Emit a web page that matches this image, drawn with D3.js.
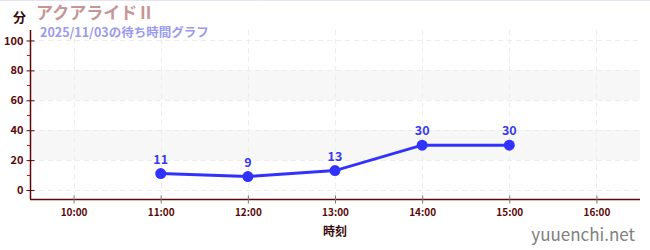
<!DOCTYPE html>
<meta charset="utf-8">
<style>
body { margin: 0; background: #fff; }
svg text { font-family: "Noto Sans CJK JP", "Noto Sans", sans-serif; }
</style>
<svg width="650" height="250"></svg>
<script src="https://d3js.org/d3.v7.min.js"></script>
<script>
"use strict";

// data
var hours = [11, 12, 13, 14, 15];
var waits = [11, 9, 13, 30, 30];
var xTicks = [10, 11, 12, 13, 14, 15, 16];
var yTicks = [0, 20, 40, 60, 80, 100];
var yMinor = [10, 30, 50, 70, 90];
var bands = [[20, 40], [60, 80]];

var svg = d3.select("svg");
var pLeft = 30, pRight = 640, pTop = 30, pBottom = 199;
var axisColor = "#5c0808";

var x = d3.scaleLinear().domain([9.5, 16.5]).range([pLeft, pRight]);
var y = d3.scaleLinear().domain([-6, 107]).range([pBottom, pTop]);

// top border
svg.append("line").attr("x1", 0).attr("x2", 650).attr("y1", 0.5).attr("y2", 0.5)
  .attr("stroke", "#e4e4f4");

// bands
svg.append("g").selectAll("rect").data(bands).enter().append("rect")
  .attr("x", pLeft).attr("width", pRight - pLeft)
  .attr("y", function(d) { return y(d[1]); })
  .attr("height", function(d) { return y(d[0]) - y(d[1]); })
  .attr("fill", "#f7f7f7");

// grid
var grid = svg.append("g").attr("stroke", "#ededed").attr("stroke-dasharray", "5,4");
grid.selectAll(".h").data(yTicks).enter().append("line")
  .attr("x1", pLeft).attr("x2", pRight)
  .attr("y1", function(d) { return Math.round(y(d)) + 0.5; })
  .attr("y2", function(d) { return Math.round(y(d)) + 0.5; });
grid.selectAll(".v").data(xTicks).enter().append("line")
  .attr("y1", pTop).attr("y2", pBottom)
  .attr("x1", function(d) { return Math.round(x(d)) + 0.5; })
  .attr("x2", function(d) { return Math.round(x(d)) + 0.5; });

// y axis
var yAxis = svg.append("g").attr("transform", "translate(" + (pLeft + 0.5) + ",0)")
  .call(d3.axisLeft(y).tickValues(yTicks).tickSize(4).tickPadding(3));
yAxis.select(".domain").attr("stroke", axisColor).attr("stroke-width", 1.5)
  .attr("d", "M0," + pTop + "V" + pBottom);
yAxis.selectAll(".tick line").attr("stroke", axisColor).attr("x2", 4).attr("x1", -4);
yAxis.selectAll(".tick text").attr("fill", axisColor).attr("font-size", 11).attr("font-weight", "bold")
  .attr("font-family", "'Noto Sans', sans-serif");
svg.append("g").selectAll("line").data(yMinor).enter().append("line")
  .attr("x1", pLeft - 3).attr("x2", pLeft)
  .attr("y1", function(d) { return Math.round(y(d)) + 0.5; })
  .attr("y2", function(d) { return Math.round(y(d)) + 0.5; })
  .attr("stroke", "#d01010");

// x axis
var xAxis = svg.append("g").attr("transform", "translate(0," + (pBottom + 0.5) + ")")
  .call(d3.axisBottom(x).tickValues(xTicks).tickSize(4).tickPadding(5)
    .tickFormat(function(d) { return d + ":00"; }));
xAxis.select(".domain").attr("stroke", axisColor).attr("stroke-width", 1.5)
  .attr("d", "M" + pLeft + ",0H" + pRight);
xAxis.selectAll(".tick line").attr("stroke", "#777").attr("y1", -4).attr("y2", 4);
xAxis.selectAll(".tick text").attr("fill", axisColor).attr("font-size", 10).attr("font-weight", "bold")
  .attr("font-family", "'Noto Sans', sans-serif");

// titles
svg.append("text").attr("x", 13).attr("y", 22).text("分")
  .attr("font-size", 13).attr("font-weight", "bold").attr("fill", "#3a0a0a");
svg.append("text").attr("x", 36).attr("y", 19).text("アクアライドⅡ")
  .attr("font-size", 17).attr("font-weight", "bold").attr("fill", "#c79595");
svg.append("text").attr("x", 40).attr("y", 37).text("2025/11/03の待ち時間グラフ")
  .attr("font-size", 12.5).attr("font-weight", "bold").attr("fill", "#9a9af0");
svg.append("text").attr("x", x(13)).attr("y", 236).text("時刻").attr("text-anchor", "middle")
  .attr("font-size", 12).attr("font-weight", "bold").attr("fill", "#3a0a0a");
svg.append("text").attr("x", 635).attr("y", 241).text("yuuenchi.net").attr("text-anchor", "end")
  .attr("font-size", 17).attr("fill", "#808080").attr("font-family", "'Noto Sans', sans-serif");

// series
var pts = hours.map(function(h, i) { return [h, waits[i]]; });
var line = d3.line().x(function(d) { return x(d[0]); }).y(function(d) { return y(d[1]); });
svg.append("path").datum(pts).attr("d", line)
  .attr("fill", "none").attr("stroke", "#3232ff").attr("stroke-width", 3);
svg.append("g").selectAll("circle").data(pts).enter().append("circle")
  .attr("cx", function(d) { return x(d[0]); })
  .attr("cy", function(d) { return y(d[1]); })
  .attr("r", 5.5).attr("fill", "#3232ff");
svg.append("g").selectAll("text").data(pts).enter().append("text")
  .attr("x", function(d) { return x(d[0]); })
  .attr("y", function(d) { return y(d[1]) - 10; })
  .attr("text-anchor", "middle")
  .attr("font-size", 12.5).attr("font-weight", "bold").attr("fill", "#3a3af0")
  .attr("font-family", "'Noto Sans', sans-serif")
  .text(function(d) { return d[1]; });
</script>
